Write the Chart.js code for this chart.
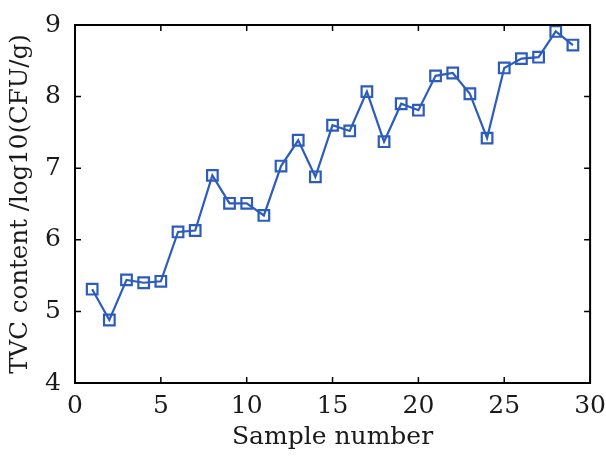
<!DOCTYPE html>
<html>
<head>
<meta charset="utf-8">
<script src="https://cdn.jsdelivr.net/npm/chart.js@4/dist/chart.umd.min.js"></script>
<style>
  html, body { margin: 0; padding: 0; background: #fff; }
  #wrap { width: 606px; height: 456px; }
</style>
</head>
<body>
<div id="wrap"><canvas id="tvcChart" width="606" height="456"></canvas></div>
<script>
// sample numbers and measured TVC (log10 CFU/g)
const samples = [1, 2, 3, 4, 5, 6, 7, 8, 9, 10, 11, 12, 13, 14, 15, 16, 17, 18, 19, 20, 21, 22, 23, 24, 25, 26, 27, 28, 29];
const tvc = [5.31, 4.88, 5.44, 5.40, 5.42, 6.11, 6.13, 6.90, 6.51, 6.51, 6.34, 7.03, 7.39, 6.88, 7.60,
             7.52, 8.07, 7.37, 7.90, 7.81, 8.29, 8.33, 8.04, 7.42, 8.40, 8.53, 8.55, 8.91, 8.72];
const xTicks = [0, 5, 10, 15, 20, 25, 30];
const yTicks = [4, 5, 6, 7, 8, 9];

const blue = '#2c5cbc';
const font = "'DejaVu Serif', 'Liberation Serif', serif";

// box + inward ticks on all four sides
const frame = {
  id: 'frame',
  afterDraw(chart) {
    const { ctx, chartArea: a, scales: { x, y } } = chart;
    ctx.save();
    ctx.strokeStyle = '#000';
    ctx.lineWidth = 1.5;
    ctx.beginPath();
    xTicks.forEach(v => {
      const px = x.getPixelForValue(v);
      ctx.moveTo(px, a.bottom); ctx.lineTo(px, a.bottom - 6);
      ctx.moveTo(px, a.top); ctx.lineTo(px, a.top + 6);
    });
    yTicks.forEach(v => {
      const py = y.getPixelForValue(v);
      ctx.moveTo(a.left, py); ctx.lineTo(a.left + 6, py);
      ctx.moveTo(a.right, py); ctx.lineTo(a.right - 6, py);
    });
    ctx.stroke();
    ctx.lineWidth = 2;
    ctx.strokeRect(a.left, a.top, a.right - a.left, a.bottom - a.top);
    ctx.restore();
  }
};

new Chart(document.getElementById('tvcChart'), {
  type: 'line',
  data: {
    datasets: [{
      data: samples.map((s, i) => ({ x: s, y: tvc[i] })),
      borderColor: blue,
      borderWidth: 2.2,
      pointStyle: 'rect',
      pointRadius: 7.5,
      pointBorderWidth: 2.2,
      pointBorderColor: blue,
      pointBackgroundColor: 'rgba(0,0,0,0)',
      tension: 0
    }]
  },
  options: {
    responsive: false,
    animation: false,
    layout: { padding: { top: 25, right: 12, left: 0, bottom: 0 } },
    plugins: { legend: { display: false }, tooltip: { enabled: false } },
    scales: {
      x: {
        type: 'linear', min: 0, max: 30,
        afterBuildTicks: s => { s.ticks = xTicks.map(v => ({ value: v })); },
        afterFit: s => { s.height = 73; },
        grid: { display: false },
        border: { display: false },
        ticks: { color: '#1a1a1a', font: { family: font, size: 25 }, padding: 0, maxRotation: 0 },
        title: { display: true, text: 'Sample number', color: '#1a1a1a', font: { family: font, size: 25 }, padding: { top: 0 } }
      },
      y: {
        type: 'linear', min: 4, max: 9,
        afterBuildTicks: s => { s.ticks = yTicks.map(v => ({ value: v })); },
        afterFit: s => { s.width = 75; },
        grid: { display: false },
        border: { display: false },
        ticks: { color: '#1a1a1a', font: { family: font, size: 25 }, padding: 6 },
        title: { display: true, text: 'TVC content /log10(CFU/g)', color: '#1a1a1a', font: { family: font, size: 24.5 }, padding: { top: 6, bottom: 0 } }
      }
    }
  },
  plugins: [frame]
});
</script>
</body>
</html>
